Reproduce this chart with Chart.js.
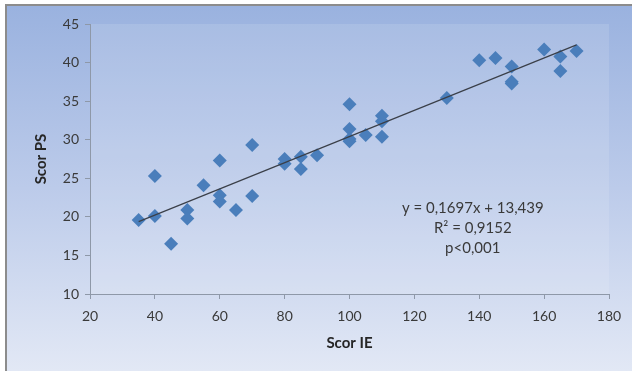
<!DOCTYPE html>
<html lang="ro">
<head>
    <meta charset="UTF-8">
    <title>Scor PS vs Scor IE</title>
    <script src="https://cdn.jsdelivr.net/npm/chart.js"></script>
    <style>
        body {
            margin: 0;
            background: #ffffff;
        }
        #wrap {
            width: 632px;
            height: 371px;
        }
    </style>
</head>
<body>
    <div id="wrap"><canvas id="myChart" width="632" height="371"></canvas></div>

    <script>
        // Scor IE (x) / Scor PS (y)
        const scorIE = [35, 40, 40, 45, 50, 50, 55, 60, 60, 60, 65, 70, 70, 80, 80, 85, 85, 90,
                        100, 100, 100, 100, 105, 110, 110, 110, 130, 140, 145, 150, 150, 150,
                        160, 165, 165, 170];
        const scorPS = [19.6, 25.3, 20.1, 16.5, 20.9, 19.8, 24.1, 27.3, 22.8, 22.0, 20.9, 29.3, 22.7, 27.5, 26.9, 27.8, 26.2, 28.0,
                        34.6, 31.4, 30.1, 29.8, 30.6, 33.1, 32.4, 30.4, 35.4, 40.3, 40.6, 39.5, 37.5, 37.3,
                        41.7, 40.8, 38.9, 41.5];

        // dreapta de regresie
        const slope = 0.1697;
        const intercept = 13.439;
        const trendX = [35, 170];
        const eqLines = ['y = 0,1697x + 13,439', 'R\u00b2 = 0,9152', 'p<0,001'];
        const eqPos = { x: 138, y: 21.1 };

        const xTicks = [20, 40, 60, 80, 100, 120, 140, 160, 180];
        const yTicks = [10, 15, 20, 25, 30, 35, 40, 45];

        const FONT = 'Lato, "Open Sans", sans-serif';

        const backgroundPlugin = {
            id: 'bg',
            beforeDraw(chart) {
                const c = chart.ctx;
                const w = chart.width, h = chart.height;
                c.save();
                c.fillStyle = '#ffffff';
                c.fillRect(0, 0, w, h);
                const g = c.createLinearGradient(0, 6, 0, h);
                g.addColorStop(0, '#9ab2df');
                g.addColorStop(0.5, '#bccbea');
                g.addColorStop(1, '#e2e8f5');
                c.fillStyle = g;
                c.fillRect(6, 6, w - 6, h - 6);
                c.fillStyle = '#8c8c8c';
                c.fillRect(5, 4, w - 5, 2);
                c.fillRect(5, 4, 2, h - 4);
                const a = chart.chartArea;
                c.fillStyle = 'rgba(255,255,255,0.12)';
                c.fillRect(a.left, a.top, a.right - a.left, a.bottom - a.top);
                c.restore();
            }
        };

        const equationPlugin = {
            id: 'equation',
            afterDatasetsDraw(chart) {
                const c = chart.ctx;
                const px = chart.scales.x.getPixelForValue(eqPos.x);
                const py = chart.scales.y.getPixelForValue(eqPos.y);
                c.save();
                c.font = '15px ' + FONT;
                c.fillStyle = '#3a3a3a';
                c.textAlign = 'center';
                c.textBaseline = 'middle';
                eqLines.forEach((line, i) => c.fillText(line, px, py + i * 20));
                c.restore();
            }
        };

        const ctx = document.getElementById('myChart').getContext('2d');
        new Chart(ctx, {
            data: {
                datasets: [{
                    type: 'scatter',
                    data: scorIE.map((x, i) => ({ x: x, y: scorPS[i] })),
                    pointStyle: 'rectRot',
                    pointRadius: 7,
                    pointHoverRadius: 7,
                    backgroundColor: '#4a7ebb',
                    borderColor: '#4a7ebb',
                    borderWidth: 0,
                    order: 2
                }, {
                    type: 'line',
                    data: trendX.map(x => ({ x: x, y: slope * x + intercept })),
                    borderColor: '#3a3f48',
                    borderWidth: 1.2,
                    pointRadius: 0,
                    fill: false,
                    order: 1
                }]
            },
            options: {
                responsive: false,
                animation: false,
                events: [],
                layout: { padding: { top: 24, right: 23, left: 0, bottom: 0 } },
                plugins: {
                    legend: { display: false },
                    tooltip: { enabled: false }
                },
                scales: {
                    x: {
                        type: 'linear',
                        min: 20,
                        max: 180,
                        afterBuildTicks: s => { s.ticks = xTicks.map(v => ({ value: v })); },
                        afterFit: s => { s.height = 77; },
                        grid: { drawOnChartArea: false, tickLength: 5, color: '#8e98a8' },
                        border: { color: '#8e98a8', width: 1 },
                        ticks: { padding: 9, color: '#3a3a3a', font: { family: FONT, size: 14 } },
                        title: {
                            display: true,
                            text: 'Scor IE',
                            color: '#262626',
                            font: { family: FONT, size: 15, weight: 'bold' },
                            padding: { top: 0, bottom: 19 }
                        }
                    },
                    y: {
                        type: 'linear',
                        min: 10,
                        max: 45,
                        afterBuildTicks: s => { s.ticks = yTicks.map(v => ({ value: v })); },
                        afterFit: s => { s.width = 90; },
                        grid: { drawOnChartArea: false, tickLength: 5, color: '#8e98a8' },
                        border: { color: '#8e98a8', width: 1 },
                        ticks: { padding: 6, color: '#3a3a3a', font: { family: FONT, size: 14 } },
                        title: {
                            display: true,
                            text: 'Scor PS',
                            color: '#262626',
                            font: { family: FONT, size: 15, weight: 'bold' },
                            padding: { top: 32, bottom: 0 }
                        }
                    }
                }
            },
            plugins: [backgroundPlugin, equationPlugin]
        });
    </script>
</body>
</html>
